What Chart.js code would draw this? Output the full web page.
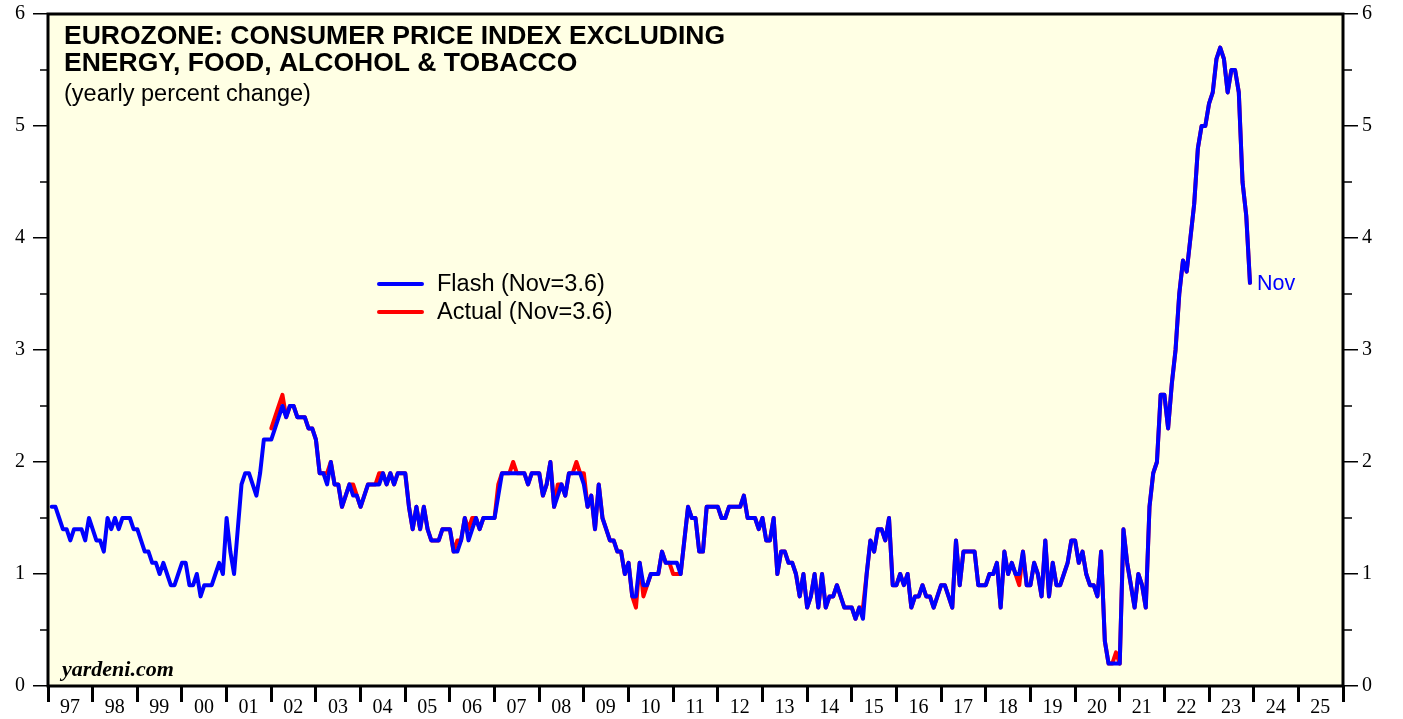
<!DOCTYPE html>
<html>
<head>
<meta charset="utf-8">
<script src="https://cdn.jsdelivr.net/npm/chart.js@4.4.1/dist/chart.umd.min.js"></script>
<style>
  body { margin: 0; background: #fff; }
  canvas { display: block; }
</style>
</head>
<body>
<canvas id="chart" width="1403" height="719"></canvas>
<script>
// monthly, Jan 1997 .. Nov 2023 (plotted at month end)
const START_YEAR = 1997;
const flash = [
  1.6,1.6,1.5,1.4,1.4,1.3,1.4,1.4,1.4,1.3,1.5,1.4, // 97
  1.3,1.3,1.2,1.5,1.4,1.5,1.4,1.5,1.5,1.5,1.4,1.4, // 98
  1.3,1.2,1.2,1.1,1.1,1.0,1.1,1.0,0.9,0.9,1.0,1.1, // 99
  1.1,0.9,0.9,1.0,0.8,0.9,0.9,0.9,1.0,1.1,1.0,1.5, // 00
  1.2,1.0,1.4,1.8,1.9,1.9,1.8,1.7,1.9,2.2,2.2,2.2, // 01
  2.3,2.4,2.5,2.4,2.5,2.5,2.4,2.4,2.4,2.3,2.3,2.2, // 02
  1.9,1.9,1.8,2.0,1.8,1.8,1.6,1.7,1.8,1.7,1.7,1.6, // 03
  1.7,1.8,1.8,1.8,1.8,1.9,1.8,1.9,1.8,1.9,1.9,1.9, // 04
  1.6,1.4,1.6,1.4,1.6,1.4,1.3,1.3,1.3,1.4,1.4,1.4, // 05
  1.2,1.2,1.3,1.5,1.3,1.4,1.5,1.4,1.5,1.5,1.5,1.5, // 06
  1.7,1.9,1.9,1.9,1.9,1.9,1.9,1.9,1.8,1.9,1.9,1.9, // 07
  1.7,1.8,2.0,1.6,1.7,1.8,1.7,1.9,1.9,1.9,1.9,1.8, // 08
  1.6,1.7,1.4,1.8,1.5,1.4,1.3,1.3,1.2,1.2,1.0,1.1, // 09
  0.8,0.8,1.1,0.9,0.9,1.0,1.0,1.0,1.2,1.1,1.1,1.1, // 10
  1.1,1.0,1.3,1.6,1.5,1.5,1.2,1.2,1.6,1.6,1.6,1.6, // 11
  1.5,1.5,1.6,1.6,1.6,1.6,1.7,1.5,1.5,1.5,1.4,1.5, // 12
  1.3,1.3,1.5,1.0,1.2,1.2,1.1,1.1,1.0,0.8,1.0,0.7, // 13
  0.8,1.0,0.7,1.0,0.7,0.8,0.8,0.9,0.8,0.7,0.7,0.7, // 14
  0.6,0.7,0.6,1.0,1.3,1.2,1.4,1.4,1.3,1.5,0.9,0.9, // 15
  1.0,0.9,1.0,0.7,0.8,0.8,0.9,0.8,0.8,0.7,0.8,0.9, // 16
  0.9,0.8,0.7,1.3,0.9,1.2,1.2,1.2,1.2,0.9,0.9,0.9, // 17
  1.0,1.0,1.1,0.7,1.2,1.0,1.1,1.0,1.0,1.2,0.9,0.9, // 18
  1.1,1.0,0.8,1.3,0.8,1.1,0.9,0.9,1.0,1.1,1.3,1.3, // 19
  1.1,1.2,1.0,0.9,0.9,0.8,1.2,0.4,0.2,0.2,0.2,0.2, // 20
  1.4,1.1,0.9,0.7,1.0,0.9,0.7,1.6,1.9,2.0,2.6,2.6, // 21
  2.3,2.7,3.0,3.5,3.8,3.7,4.0,4.3,4.8,5.0,5.0,5.2, // 22
  5.3,5.6,5.7,5.6,5.3,5.5,5.5,5.3,4.5,4.2,3.6      // 23
];

// actual series starts Dec 2001 (month index 59)
const ACTUAL_OFFSET = 59;
const actual = [
  2.3,                                              // Dec 01
  2.4,2.5,2.6,2.4,2.5,2.5,2.4,2.4,2.4,2.3,2.3,2.2, // 02
  1.9,1.9,1.9,2.0,1.8,1.8,1.6,1.7,1.8,1.8,1.7,1.6, // 03
  1.7,1.8,1.8,1.8,1.9,1.9,1.8,1.9,1.8,1.9,1.9,1.9, // 04
  1.6,1.4,1.6,1.4,1.6,1.4,1.3,1.3,1.3,1.4,1.4,1.4, // 05
  1.2,1.3,1.3,1.5,1.4,1.5,1.5,1.4,1.5,1.5,1.5,1.5, // 06
  1.8,1.9,1.9,1.9,2.0,1.9,1.9,1.9,1.8,1.9,1.9,1.9, // 07
  1.7,1.8,2.0,1.6,1.8,1.8,1.7,1.9,1.9,2.0,1.9,1.9, // 08
  1.6,1.7,1.4,1.8,1.5,1.4,1.3,1.3,1.2,1.2,1.0,1.1, // 09
  0.8,0.7,1.1,0.8,0.9,1.0,1.0,1.0,1.2,1.1,1.1,1.0, // 10
  1.0,1.0,1.3,1.6,1.5,1.5,1.2,1.2,1.6,1.6,1.6,1.6, // 11
  1.5,1.5,1.6,1.6,1.6,1.6,1.7,1.5,1.5,1.5,1.4,1.5, // 12
  1.3,1.3,1.5,1.0,1.2,1.2,1.1,1.1,1.0,0.8,1.0,0.7, // 13
  0.8,1.0,0.7,1.0,0.7,0.8,0.8,0.9,0.8,0.7,0.7,0.7, // 14
  0.6,0.7,0.7,1.0,1.3,1.2,1.4,1.4,1.3,1.5,0.9,0.9, // 15
  1.0,0.9,1.0,0.7,0.8,0.8,0.9,0.8,0.8,0.7,0.8,0.9, // 16
  0.9,0.8,0.7,1.3,0.9,1.2,1.2,1.2,1.2,0.9,0.9,0.9, // 17
  1.0,1.0,1.1,0.7,1.2,1.0,1.1,1.0,0.9,1.2,0.9,0.9, // 18
  1.1,1.0,0.8,1.3,0.8,1.1,0.9,0.9,1.0,1.1,1.3,1.3, // 19
  1.1,1.2,1.0,0.9,0.9,0.8,1.2,0.4,0.2,0.2,0.3,0.2, // 20
  1.4,1.1,0.9,0.7,1.0,0.9,0.7,1.6,1.9,2.0,2.6,2.6, // 21
  2.3,2.7,3.0,3.5,3.8,3.7,4.0,4.3,4.8,5.0,5.0,5.2, // 22
  5.3,5.6,5.7,5.6,5.3,5.5,5.5,5.3,4.5,4.2,3.6      // 23
];

const yearLabels = ['97','98','99','00','01','02','03','04','05','06','07','08','09','10',
  '11','12','13','14','15','16','17','18','19','20','21','22','23','24','25'];

const titleLines = ['EUROZONE: CONSUMER PRICE INDEX EXCLUDING', 'ENERGY, FOOD, ALCOHOL & TOBACCO'];
const subtitle = '(yearly percent change)';
const legendItems = [
  { label: 'Flash (Nov=3.6)', color: '#0000ff' },
  { label: 'Actual (Nov=3.6)', color: '#ff0000' },
];

const monthX = i => START_YEAR + (i + 1) / 12;
const flashPts = flash.map((v, i) => ({ x: monthX(i), y: v }));
const actualPts = actual.map((v, i) => ({ x: monthX(i + ACTUAL_OFFSET), y: v }));

const SANS = '"Liberation Sans", Arial, sans-serif';
const SERIF = '"Liberation Serif", "Times New Roman", serif';

const decor = {
  id: 'decor',
  beforeDraw(chart) {
    const { ctx, chartArea: a } = chart;
    ctx.save();
    ctx.fillStyle = '#ffffe4';
    ctx.fillRect(a.left, a.top, a.right - a.left, a.bottom - a.top);
    ctx.restore();
  },
  afterDraw(chart) {
    const { ctx, chartArea: a, scales } = chart;
    ctx.save();

    // minor ticks at half units, both sides
    ctx.strokeStyle = '#000';
    ctx.lineWidth = 1.5;
    for (let v = 0.5; v < 6; v += 1) {
      const y = scales.y.getPixelForValue(v);
      ctx.beginPath();
      ctx.moveTo(a.left - 8, y); ctx.lineTo(a.left, y);
      ctx.moveTo(a.right, y); ctx.lineTo(a.right + 9, y);
      ctx.stroke();
    }

    // frame
    ctx.lineWidth = 3;
    ctx.strokeRect(a.left, a.top, a.right - a.left, a.bottom - a.top);

    // title
    ctx.fillStyle = '#000';
    ctx.textBaseline = 'alphabetic';
    ctx.font = 'bold 26.5px ' + SANS;
    ctx.fillText(titleLines[0], 64, 44);
    ctx.fillText(titleLines[1], 64, 71);
    ctx.font = '23.5px ' + SANS;
    ctx.fillText(subtitle, 64, 101);

    // legend
    ctx.font = '23.5px ' + SANS;
    legendItems.forEach((it, i) => {
      const y = 284 + i * 28;
      ctx.strokeStyle = it.color;
      ctx.lineWidth = 4;
      ctx.lineCap = 'round';
      ctx.beginPath();
      ctx.moveTo(379, y); ctx.lineTo(422, y);
      ctx.stroke();
      ctx.fillStyle = '#000';
      ctx.textBaseline = 'middle';
      ctx.fillText(it.label, 437, y + 1);
    });

    // end label
    const pts = chart.getDatasetMeta(0).data;
    const last = pts[pts.length - 1];
    ctx.fillStyle = '#0000ff';
    ctx.font = '21.5px ' + SANS;
    ctx.textBaseline = 'middle';
    ctx.fillText('Nov', last.x + 7, last.y + 1);

    // source
    ctx.fillStyle = '#000';
    ctx.font = 'italic bold 22px ' + SERIF;
    ctx.textBaseline = 'alphabetic';
    ctx.fillText('yardeni.com', 62, 676);

    ctx.restore();
  }
};

const noPad = s => { s.paddingTop = 0; s.paddingBottom = 0; s.paddingLeft = 0; s.paddingRight = 0; };

const yAxis = (position, width) => ({
  type: 'linear',
  position,
  min: 0,
  max: 6,
  afterFit: s => { s.width = width; noPad(s); },
  border: { display: false },
  grid: { drawOnChartArea: false, tickLength: 15, color: '#000', lineWidth: 1.5 },
  ticks: {
    stepSize: 1,
    padding: position === 'left' ? 8 : 4,
    color: '#000',
    font: { family: SERIF, size: 20 },
  },
});

new Chart(document.getElementById('chart'), {
  type: 'line',
  data: {
    datasets: [
      { label: 'Flash', data: flashPts, borderColor: '#0000ff', borderWidth: 4 },
      { label: 'Actual', data: actualPts, borderColor: '#ff0000', borderWidth: 4 },
    ],
  },
  options: {
    responsive: false,
    animation: false,
    layout: { padding: { top: 14, left: 0, right: 0, bottom: 0 } },
    elements: {
      point: { radius: 0 },
      line: { tension: 0, borderJoinStyle: 'round', borderCapStyle: 'round' },
    },
    plugins: { legend: { display: false }, tooltip: { enabled: false } },
    scales: {
      x: {
        type: 'linear',
        min: START_YEAR,
        max: START_YEAR + 29,
        afterFit: s => { s.height = 33; noPad(s); },
        border: { display: false },
        grid: { drawOnChartArea: false, tickLength: 16, color: '#000', lineWidth: 3 },
        ticks: {
          stepSize: 1,
          autoSkip: false,
          maxTicksLimit: 40,
          maxRotation: 0,
          padding: -6,
          labelOffset: 22,
          color: '#000',
          font: { family: SERIF, size: 20 },
          callback: (v, i) => yearLabels[i] || '',
        },
      },
      y: yAxis('left', 48),
      y2: yAxis('right', 60),
    },
  },
  plugins: [decor],
});
</script>
</body>
</html>
